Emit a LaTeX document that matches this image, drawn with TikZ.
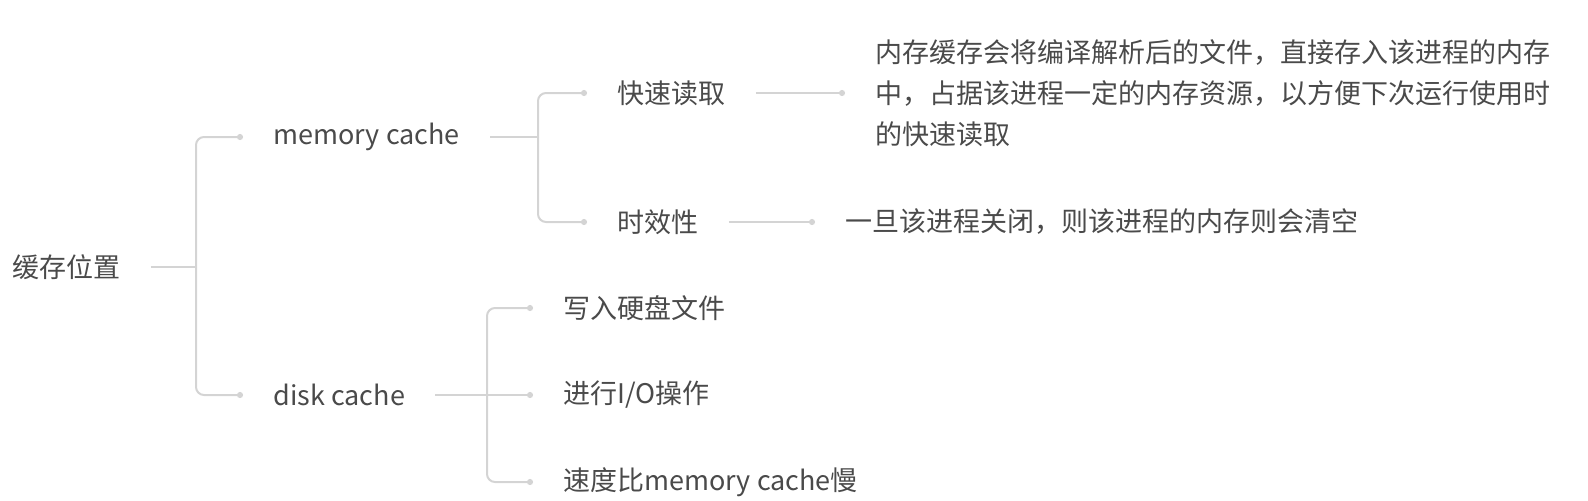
\documentclass[tikz,border=0pt]{standalone}
\usepackage{fontspec}
\setmainfont{Noto Sans CJK SC}
\usetikzlibrary{arrows.meta,positioning,calc}
\definecolor{txtgray}{HTML}{4A4A4A}
\definecolor{linegray}{HTML}{D4D4D4}

\begin{document}
\begin{tikzpicture}[x=0.5pt, y=-0.5pt,
		item/.style={anchor=west, inner xsep=15pt, inner ysep=0pt, text=txtgray,
			font=\fontsize{13.5}{20.5}\selectfont},
		stub/.style={draw=linegray, line width=1pt},
		link/.style={stub, rounded corners=4pt, -{Circle[length=3pt]}}]
	\useasboundingbox (0,0) rectangle (1588,500);
	% nodes
	\node[item] (root) at (-18,267) {缓存位置};
	\node[item] (mem) at (243,137) {memory cache};
	\node[item] (disk) at (243,395) {disk cache};
	\node[item] (fast) at (587,93) {快速读取};
	\node[item] (time) at (587,222) {时效性};
	\node[item, align=left] (fastnote) at (845,93)
		{内存缓存会将编译解析后的文件，直接存入该进程的内存\\中，占据该进程一定的内存资源，以方便下次运行使用时\\的快速读取};
	\node[item] (timenote) at (815,222) {一旦该进程关闭，则该进程的内存则会清空};
	\node[item] (write) at (533,308) {写入硬盘文件};
	\node[item] (io) at (533,395) {进行I/O操作};
	\node[item] (slow) at (533,482) {速度比memory cache慢};
	% branch points
	\coordinate (rootbar) at (196,267);
	\coordinate (membar) at (538,137);
	\coordinate (diskbar) at (487,395);
	% connectors
	\draw[stub] (root.east) -- (rootbar);
	\draw[link] (rootbar) |- (mem.west);
	\draw[link] (rootbar) |- (disk.west);
	\draw[stub] (mem.east) -- (membar);
	\draw[link] (membar) |- (fast.west);
	\draw[link] (membar) |- (time.west);
	\draw[link] (fast.east) -- (fastnote.west);
	\draw[link] (time.east) -- (timenote.west);
	\draw[stub] (disk.east) -- (diskbar);
	\draw[link] (diskbar) |- (write.west);
	\draw[link] (diskbar) -- (io.west);
	\draw[link] (diskbar) |- (slow.west);
\end{tikzpicture}
\end{document}
